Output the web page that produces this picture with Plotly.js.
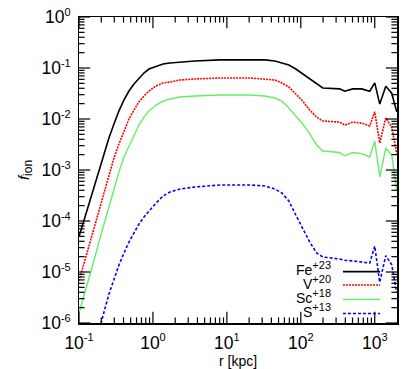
<!DOCTYPE html>
<html>
<head>
<meta charset="utf-8">
<script src="https://cdn.plot.ly/plotly-3.0.1.min.js"></script>
<style>
  html, body { margin: 0; padding: 0; background: #fff; }
  #chart { width: 418px; height: 369px; }
</style>
</head>
<body>
<div id="chart"></div>
<script>
// Radius grid [kpc]
const radius = [0.1, 0.117, 0.136, 0.160, 0.186, 0.218, 0.254, 0.297, 0.347, 0.406, 0.474, 0.554, 0.647,
    0.756, 0.883, 1.10, 1.37, 1.70, 2.32, 3.70, 8.03, 20.5, 32.6, 44.6, 55.4, 68.9, 85.6, 106, 132, 164, 198,
    336, 393, 505, 667, 855, 1000, 1169, 1410, 1698, 1982];

// Ion fractions
const feIon = [4.9e-5, 1.05e-4, 2.25e-4, 4.9e-4, 1.05e-3, 2.16e-3, 4.24e-3, 8.0e-3, 0.0144, 0.0236, 0.0354,
    0.0486, 0.0637, 0.0798, 0.0955, 0.109, 0.120, 0.125, 0.131, 0.137, 0.144, 0.144, 0.144, 0.137, 0.125,
    0.1145, 0.0955, 0.0763, 0.0609, 0.0486, 0.0405,
    0.039, 0.035, 0.039, 0.039, 0.035, 0.051, 0.0196, 0.044, 0.032, 0.0138];
const vIon = [6.67e-6, 1.44e-5, 3.09e-5, 6.97e-5, 1.57e-4, 3.54e-4, 7.98e-4, 1.72e-3, 3.24e-3, 5.82e-3, 0.0100,
    0.0150, 0.0216, 0.0282, 0.0354, 0.0444, 0.0508, 0.0531, 0.0582, 0.0609, 0.0637, 0.0637, 0.0609, 0.0582, 0.0508,
    0.0424, 0.0309, 0.0225, 0.0150, 0.0109, 0.00914,
    0.0087, 0.0076, 0.0087, 0.0083, 0.0073, 0.0138, 0.0034, 0.0105, 0.0069, 0.0021];
const scIon = [1.57e-6, 3.38e-6, 7.62e-6, 1.72e-5, 3.87e-5, 8.73e-5, 1.97e-4, 4.44e-4, 9.14e-4, 1.80e-3, 2.96e-3,
    4.85e-3, 7.62e-3, 0.0109, 0.0144, 0.0188, 0.0225, 0.0247, 0.0270, 0.0282, 0.0296, 0.0296, 0.0282, 0.0258, 0.0225,
    0.0164, 0.0115, 0.0080, 0.0051, 0.0031, 0.00236,
    0.0022, 0.0019, 0.0022, 0.0021, 0.0018, 0.0037, 7.3e-4, 0.0027, 0.00196, 4.1e-4];
const sIon = [1.88e-8, 4.24e-8, 1.09e-7, 2.96e-7, 7.29e-7, 1.64e-6, 3.70e-6, 7.29e-6, 1.37e-5, 2.36e-5, 3.87e-5,
    5.82e-5, 8.73e-5, 1.20e-4, 1.57e-4, 2.25e-4, 3.09e-4, 3.70e-4, 4.24e-4, 4.64e-4, 5.08e-4, 5.08e-4, 4.86e-4,
    4.24e-4, 3.54e-4, 2.47e-4, 1.31e-4, 6.97e-5, 3.87e-5, 2.36e-5, 1.97e-5,
    1.8e-5, 1.7e-5, 1.65e-5, 1.58e-5, 1.5e-5, 3.2e-5, 6.3e-6, 2.1e-5, 1.38e-5, 3.9e-6];

const SUP = s => '<sup><span style="font-size:11px">' + s + '</span></sup>';
const seriesNames = ['Fe' + SUP('+23'), 'V' + SUP('+20'), 'Sc' + SUP('+18'), 'S' + SUP('+13')];
const seriesValues = [feIon, vIon, scIon, sIon];
const seriesStyles = [
    { color: '#000000', width: 1.6, dash: 'solid' },
    { color: '#ff0000', width: 1.6, dash: '2px,1px' },
    { color: '#66ee66', width: 1.4, dash: 'solid' },
    { color: '#0000ff', width: 1.6, dash: '3px,2px' }
];

// axis limits
const rMin = 0.1, rMax = 2000;
const fMin = 1e-6, fMax = 1;

// decade exponents shown as 10^n on both axes
const decadeExps = [-6, -5, -4, -3, -2, -1, 0, 1, 2, 3];

// plotly's default power labels -> gnuplot style 10^n labels
function decadeAlias() {
    const alias = {};
    decadeExps.forEach(p => {
        const label = '10' + SUP(String(p));
        if (p === 0) alias['1'] = label;
        else if (p === 1) alias['10'] = label;
        else alias['10<sup>' + (p < 0 ? '\u2212' : '') + Math.abs(p) + '</sup>'] = label;
    });
    return alias;
}

// tick positions inside [lo, hi]: decades, or 2..9 of each decade
function decadeTicks(lo, hi) {
    return decadeExps.map(p => Math.pow(10, p)).filter(v => v >= lo * 0.999 && v <= hi * 1.001);
}
function minorTicks(lo, hi) {
    const out = [];
    decadeExps.forEach(p => {
        for (let m = 2; m <= 9; m++) {
            const v = m * Math.pow(10, p);
            if (v > lo && v < hi) out.push(v);
        }
    });
    return out;
}

const traces = seriesValues.map((vals, i) => ({
    x: radius,
    y: vals,
    type: 'scatter',
    mode: 'lines',
    name: seriesNames[i],
    line: seriesStyles[i],
    showlegend: false
}));

// gnuplot-style tick marks on all four sides: line markers sitting on the frame,
// half of each marker is clipped away by the plot area
function tickTrace(xs, ys, symbol, size) {
    return {
        x: xs, y: ys, type: 'scatter', mode: 'markers', showlegend: false,
        cliponaxis: true, hoverinfo: 'skip',
        marker: { symbol: symbol, size: size, color: '#000', line: { color: '#000', width: 1.2 } }
    };
}
const xMajor = decadeTicks(rMin, rMax), xMinor = minorTicks(rMin, rMax);
const yMajor = decadeTicks(fMin, fMax), yMinor = minorTicks(fMin, fMax);
[fMin, fMax].forEach(edge => {
    traces.push(tickTrace(xMajor, xMajor.map(() => edge), 'line-ns', 16));
    traces.push(tickTrace(xMinor, xMinor.map(() => edge), 'line-ns', 8));
});
[rMin, rMax].forEach(edge => {
    traces.push(tickTrace(yMajor.map(() => edge), yMajor, 'line-ew', 16));
    traces.push(tickTrace(yMinor.map(() => edge), yMinor, 'line-ew', 8));
});

// gnuplot-style key: text on the left, line sample on the right
const keyRows = [0.168, 0.124, 0.077, 0.031];
const annotations = [];
const shapes = [];
keyRows.forEach((ky, i) => {
    annotations.push({
        xref: 'paper', yref: 'paper', x: 0.8, y: ky,
        xanchor: 'right', yanchor: 'middle', yshift: 3,
        text: seriesNames[i], showarrow: false,
        font: { family: 'Liberation Sans, Arial, sans-serif', size: 14, color: '#000' }
    });
    shapes.push({
        type: 'line', xref: 'paper', yref: 'paper',
        x0: 0.83, x1: 0.947, y0: ky, y1: ky,
        line: seriesStyles[i]
    });
});

const tickFont = { family: 'Liberation Sans, Arial, sans-serif', size: 14, color: '#000' };

const axisCommon = {
    type: 'log',
    showgrid: false,
    zeroline: false,
    showline: true,
    linecolor: '#000',
    linewidth: 1.5,
    mirror: true,
    ticks: '',
    tickmode: 'linear',
    tick0: 0,
    dtick: 1,
    exponentformat: 'power',
    labelalias: decadeAlias(),
    tickfont: tickFont
};

const layout = {
    width: 418,
    height: 369,
    margin: { l: 79, r: 21, t: 17, b: 46 },
    paper_bgcolor: '#fff',
    plot_bgcolor: '#fff',
    font: { family: 'Liberation Sans, Arial, sans-serif', size: 14, color: '#000' },
    xaxis: Object.assign({}, axisCommon, {
        range: [Math.log10(rMin), Math.log10(rMax)],
        ticklabelstandoff: 4,
        title: { text: 'r [kpc]', standoff: 6, font: { size: 14 } }
    }),
    yaxis: Object.assign({}, axisCommon, {
        range: [Math.log10(fMin), Math.log10(fMax)],
        ticklabelstandoff: 4,
        title: { text: '<i>f</i><sub><span style="font-size:12px">ion</span></sub>', standoff: 8, font: { size: 15 } }
    }),
    annotations: annotations,
    shapes: shapes
};

Plotly.newPlot('chart', traces, layout, { staticPlot: true, displayModeBar: false });
</script>
</body>
</html>
